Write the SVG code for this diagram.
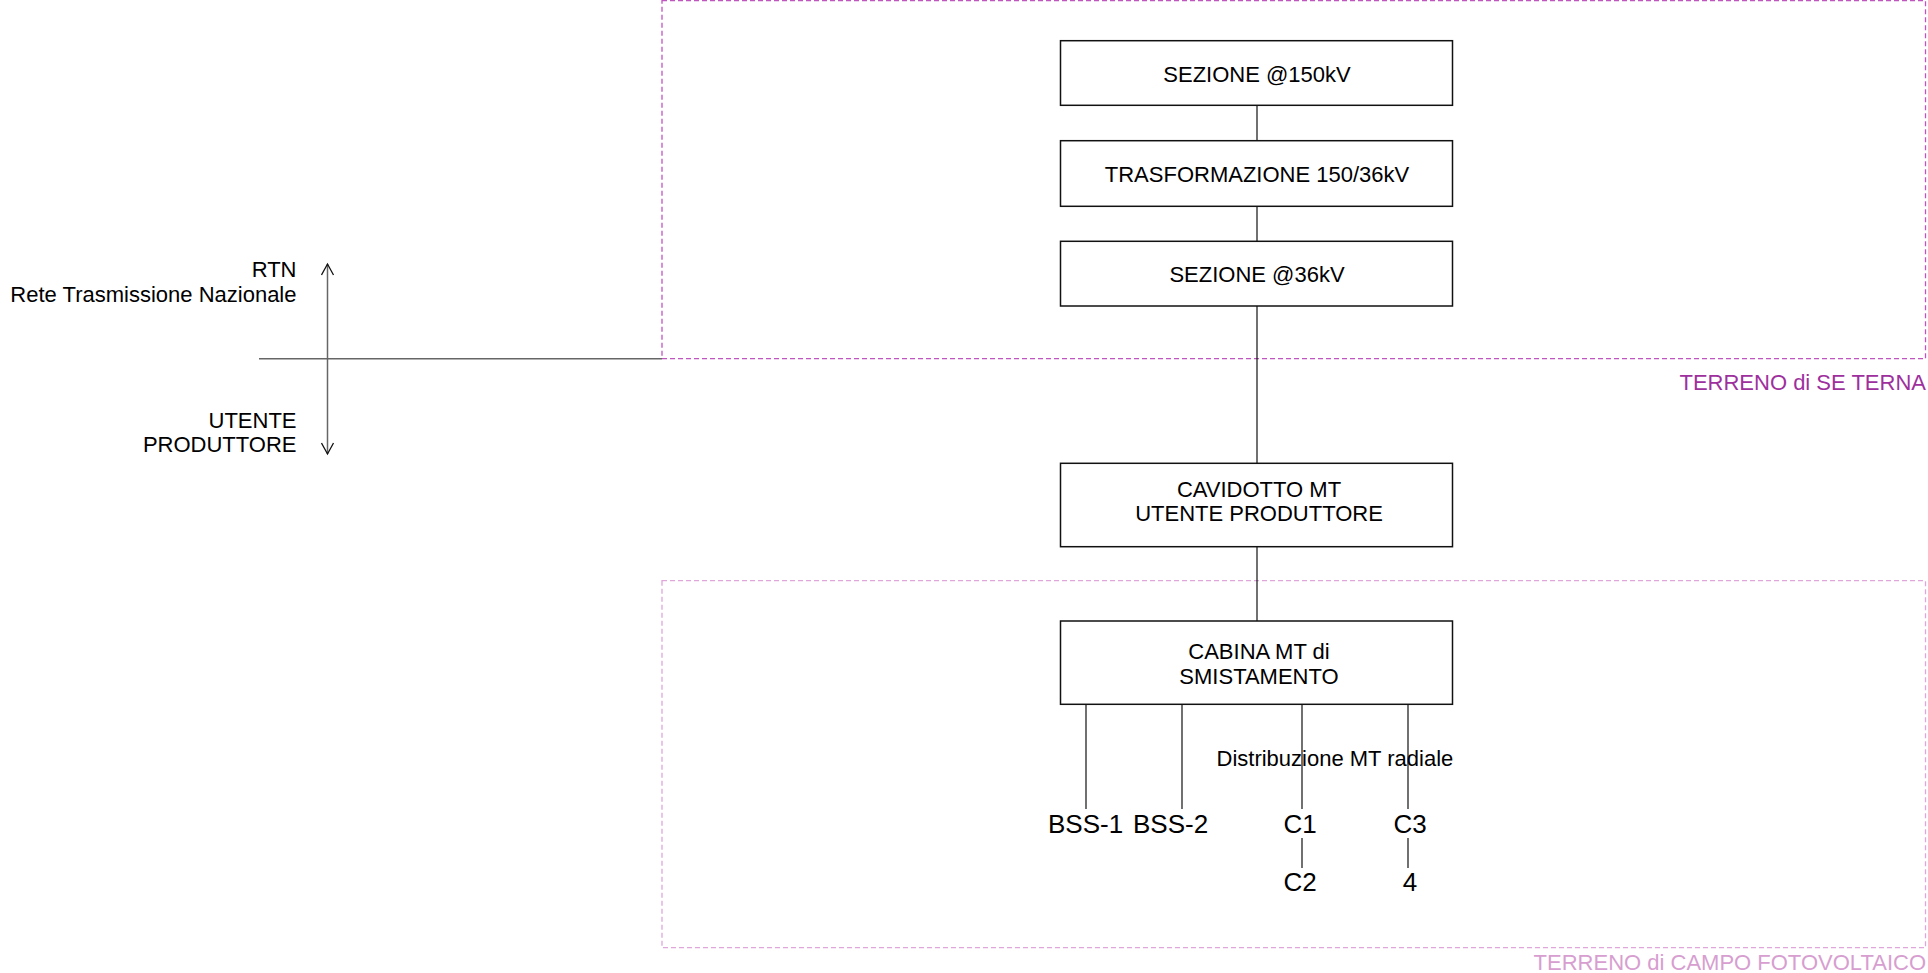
<svg xmlns="http://www.w3.org/2000/svg" width="1928" height="973" viewBox="0 0 1928 973">
<style>
  text { font-family: "Liberation Sans", Arial, sans-serif; fill: #000; }
  .t22 { font-size: 22px; }
  .t26 { font-size: 26px; }
  .mid { text-anchor: middle; }
  .end { text-anchor: end; }
  .box { fill: #fff; stroke: #111; stroke-width: 1.5; }
  .wire { stroke: #111; stroke-width: 1.2; fill: none; }
  .grey { stroke: #666; stroke-width: 1.5; fill: none; }
  .zoneA { fill: none; stroke: #c055c0; stroke-width: 1.3; stroke-dasharray: 5 3; }
  .zoneB { fill: none; stroke: #dfa6da; stroke-width: 1.3; stroke-dasharray: 5 3; }
</style>
<defs>
  <marker id="open" viewBox="0 0 14 14" refX="12" refY="7" markerWidth="14" markerHeight="14" markerUnits="userSpaceOnUse" orient="auto-start-reverse">
    <path d="M1,1 L12,7 L1,13" fill="none" stroke="#111" stroke-width="1.3"/>
  </marker>
</defs>
<rect width="1928" height="973" fill="#fff"/>

<g id="zone-se-terna">
  <rect class="zoneA" x="662" y="0.7" width="1263.5" height="358"/>
  <text class="t22 end" x="1926" y="390" style="fill:#9e309e">TERRENO di SE TERNA</text>
</g>
<g id="zone-campo">
  <rect class="zoneB" x="662" y="580.7" width="1263.5" height="367"/>
  <text class="t22 end" x="1926" y="970" style="fill:#d79ed0">TERRENO di CAMPO FOTOVOLTAICO</text>
</g>

<g id="connectors">
  <line class="grey" x1="259" y1="358.7" x2="662" y2="358.7"/>
  <line class="grey" x1="327.5" y1="264" x2="327.5" y2="454" marker-start="url(#open)" marker-end="url(#open)"/>
  <line class="wire" x1="1257" y1="105.3" x2="1257" y2="140.7"/>
  <line class="wire" x1="1257" y1="206.3" x2="1257" y2="241.3"/>
  <line class="wire" x1="1257" y1="306" x2="1257" y2="463.3"/>
  <line class="wire" x1="1257" y1="546.7" x2="1257" y2="621"/>
  <line class="wire" x1="1086" y1="704.3" x2="1086" y2="809"/>
  <line class="wire" x1="1182" y1="704.3" x2="1182" y2="809"/>
  <line class="wire" x1="1302" y1="704.3" x2="1302" y2="809"/>
  <line class="wire" x1="1408" y1="704.3" x2="1408" y2="809"/>
  <line class="wire" x1="1302" y1="838" x2="1302" y2="868"/>
  <line class="wire" x1="1408" y1="838" x2="1408" y2="868"/>
</g>

<g id="legend-rtn">
  <text class="t22 end" x="296.5" y="277">RTN</text>
  <text class="t22 end" x="296.5" y="302">Rete Trasmissione Nazionale</text>
</g>
<g id="legend-utente">
  <text class="t22 end" x="296.5" y="428">UTENTE</text>
  <text class="t22 end" x="296.5" y="452">PRODUTTORE</text>
</g>

<g id="sezione-150">
  <rect class="box" x="1060.5" y="40.7" width="392" height="64.6"/>
  <text class="t22 mid" x="1257" y="81.7">SEZIONE @150kV</text>
</g>
<g id="trasformazione">
  <rect class="box" x="1060.5" y="140.7" width="392" height="65.6"/>
  <text class="t22 mid" x="1257" y="181.5">TRASFORMAZIONE 150/36kV</text>
</g>
<g id="sezione-36">
  <rect class="box" x="1060.5" y="241.3" width="392" height="64.7"/>
  <text class="t22 mid" x="1257" y="281.5">SEZIONE @36kV</text>
</g>
<g id="cavidotto">
  <rect class="box" x="1060.5" y="463.3" width="392" height="83.4"/>
  <text class="t22 mid" x="1259" y="497.3">CAVIDOTTO MT</text>
  <text class="t22 mid" x="1259" y="521">UTENTE PRODUTTORE</text>
</g>
<g id="cabina">
  <rect class="box" x="1060.5" y="621" width="392" height="83.3"/>
  <text class="t22 mid" x="1259" y="658.7">CABINA MT di</text>
  <text class="t22 mid" x="1259" y="683.7">SMISTAMENTO</text>
</g>

<g id="distribuzione-label">
  <text class="t22" x="1216.5" y="766">Distribuzione MT radiale</text>
</g>
<g id="bss-1"><text class="t26" x="1048" y="832.7">BSS-1</text></g>
<g id="bss-2"><text class="t26" x="1133" y="832.7">BSS-2</text></g>
<g id="c1"><text class="t26 mid" x="1300" y="832.7">C1</text></g>
<g id="c3"><text class="t26 mid" x="1410" y="832.7">C3</text></g>
<g id="c2"><text class="t26 mid" x="1300" y="891">C2</text></g>
<g id="n4"><text class="t26 mid" x="1410" y="891">4</text></g>
</svg>
